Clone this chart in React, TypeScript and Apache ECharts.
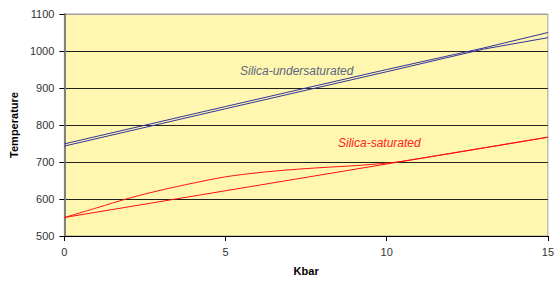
import React, { useEffect, useRef } from "react";
import * as echarts from "echarts";

const undersatUpper: [number, number][] = [
  [0, 749], [5, 850], [10, 950], [13, 1008], [15, 1050],
];
const undersatLower: [number, number][] = [
  [0, 743], [5, 844], [10, 944], [13, 1005], [15, 1036],
];
const saturatedStraight: [number, number][] = [
  [0, 550], [15, 767],
];
const saturatedCurve: [number, number][] = [
  [0, 550], [1, 576], [2, 602], [3, 624], [4, 643], [5, 660], [6, 671],
  [7, 679], [8, 685], [9, 690], [10, 697], [10.5, 702], [15, 767],
];
const yTicks = [500, 600, 700, 800, 900, 1000, 1100];
const xTicks = [0, 5, 10, 15];

export default function App() {
  const ref = useRef<HTMLDivElement>(null);
  useEffect(() => {
    if (!ref.current) return;
    const chart = echarts.init(ref.current, undefined, { renderer: "svg" });
    const font = "'Liberation Sans', Arial, sans-serif";
    chart.setOption({
      animation: false,
      backgroundColor: "#ffffff",
      grid: {
        left: 64,
        right: 7,
        top: 14,
        bottom: 45,
        show: true,
        backgroundColor: "#FFF7B0",
        borderColor: "#a0a0a0",
        borderWidth: 1,
      },
      xAxis: {
        type: "value",
        min: xTicks[0],
        max: xTicks[xTicks.length - 1],
        interval: 5,
        name: "Kbar",
        nameLocation: "middle",
        nameGap: 29,
        nameTextStyle: { fontFamily: font, fontSize: 11, fontWeight: "bold", color: "#000" },
        axisLine: { show: true, lineStyle: { color: "#000", width: 1 } },
        axisTick: { show: true, length: 5, lineStyle: { color: "#000" } },
        axisLabel: { fontFamily: font, fontSize: 11, color: "#333", margin: 10, formatter: (v: number) => String(v) },
        splitLine: { show: false },
      },
      yAxis: {
        type: "value",
        min: yTicks[0],
        max: yTicks[yTicks.length - 1],
        interval: 100,
        name: "Temperature",
        nameLocation: "middle",
        nameGap: 40,
        nameTextStyle: { fontFamily: font, fontSize: 11, fontWeight: "bold", color: "#000" },
        axisLine: { show: true, lineStyle: { color: "#808080", width: 2 } },
        axisTick: { show: true, length: 5, lineStyle: { color: "#000" } },
        axisLabel: { fontFamily: font, fontSize: 11, color: "#333", margin: 10, formatter: (v: number) => String(v) },
        splitLine: {
          show: true,
          lineStyle: {
            color: ["#000", "#222", "#222", "#222", "#222", "#222", "#a0a0a0"],
            width: 1,
          },
        },
      },
      series: [
        {
          type: "line",
          data: undersatUpper,
          symbol: "none",
          lineStyle: { color: "#333399", width: 1 },
        },
        {
          type: "line",
          data: undersatLower,
          symbol: "none",
          lineStyle: { color: "#333399", width: 1 },
        },
        {
          type: "line",
          data: saturatedStraight,
          symbol: "none",
          lineStyle: { color: "#ff1010", width: 1 },
        },
        {
          type: "line",
          data: saturatedCurve,
          symbol: "none",
          smooth: 0.3,
          lineStyle: { color: "#ff1010", width: 1 },
        },
      ],
      graphic: [
        {
          type: "text",
          left: 240,
          top: 65,
          style: {
            text: "Silica-undersaturated",
            font: `italic 12px ${font}`,
            fill: "#5a6680",
          },
        },
        {
          type: "text",
          left: 338,
          top: 137,
          style: {
            text: "Silica-saturated",
            font: `italic 12px ${font}`,
            fill: "#ff2020",
          },
        },
      ],
    });
    return () => chart.dispose();
  }, []);
  return (
    <div
      ref={ref}
      style={{ position: "fixed", left: 0, top: 0, width: 557, height: 281 }}
    />
  );
}
